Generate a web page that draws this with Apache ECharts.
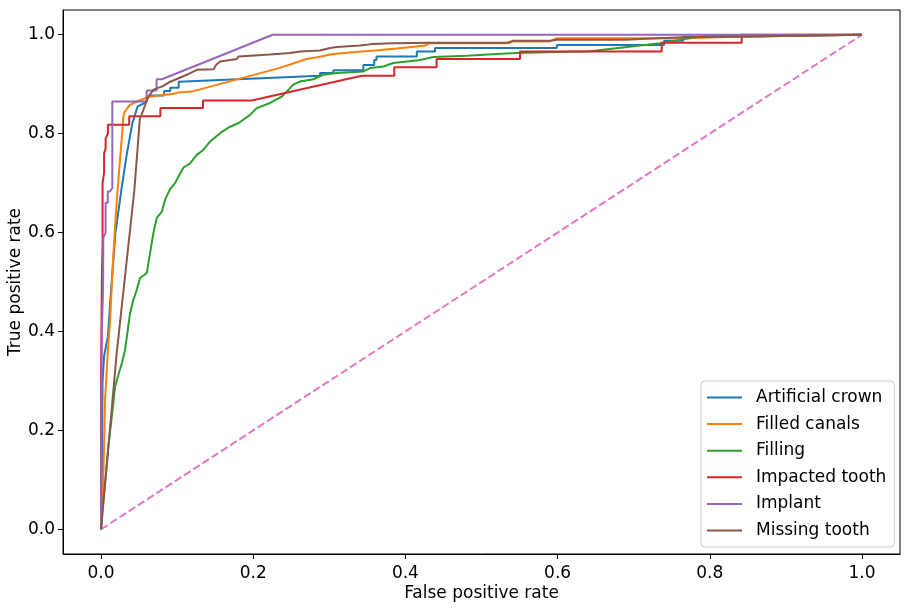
<!DOCTYPE html>
<html>
<head>
<meta charset="utf-8">
<script src="https://cdn.jsdelivr.net/npm/echarts@6/dist/echarts.min.js"></script>
<style>html,body{margin:0;padding:0;background:#fff;}#c{width:911px;height:608px;}</style>
</head>
<body>
<div id="c"></div>
<script>
const seriesNames = ['Artificial crown','Filled canals','Filling','Impacted tooth','Implant','Missing tooth'];
const tickValues = [0, 0.2, 0.4, 0.6, 0.8, 1.0];

const artificialCrown = [[0,0],[0.001,0.1],[0.002,0.3],[0.004,0.35],[0.009,0.39],[0.013,0.48],[0.019,0.60],[0.027,0.69],[0.034,0.76],[0.041,0.82],[0.045,0.84],[0.048,0.855],[0.055,0.86],[0.060,0.867],[0.063,0.877],[0.083,0.877],[0.083,0.886],[0.091,0.886],[0.091,0.893],[0.102,0.893],[0.102,0.905],[0.2878,0.917],[0.2878,0.9225],[0.3053,0.9225],[0.3053,0.928],[0.3447,0.928],[0.3447,0.939],[0.359,0.939],[0.359,0.949],[0.362,0.949],[0.362,0.956],[0.415,0.956],[0.415,0.966],[0.439,0.966],[0.439,0.973],[0.599,0.973],[0.599,0.979],[0.740,0.979],[0.740,0.988],[0.765,0.988],[0.765,0.996],[0.827,0.996],[0.827,1.0],[1,1]];

const filledCanals = [[0,0],[0.0017,0.05],[0.003,0.107],[0.0053,0.262],[0.009,0.362],[0.0118,0.42],[0.016,0.551],[0.020,0.65],[0.0245,0.74],[0.0272,0.79],[0.0293,0.835],[0.0315,0.845],[0.038,0.858],[0.047,0.865],[0.0556,0.870],[0.062,0.874],[0.097,0.881],[0.100,0.883],[0.119,0.885],[0.235,0.933],[0.270,0.951],[0.2855,0.955],[0.305,0.961],[0.334,0.965],[0.360,0.968],[0.3886,0.972],[0.4017,0.974],[0.426,0.978],[0.432,0.983],[0.533,0.983],[0.537,0.9865],[0.590,0.9865],[0.599,0.993],[0.771,0.993],[0.771,0.996],[0.83,0.996],[0.83,1.0],[1,1]];

const filling = [[0,0],[0.0022,0.045],[0.0053,0.0925],[0.0096,0.1666],[0.0141,0.227],[0.0184,0.288],[0.0227,0.312],[0.0272,0.335],[0.0315,0.362],[0.0381,0.4366],[0.0424,0.4636],[0.0469,0.4838],[0.0512,0.508],[0.060,0.5176],[0.0644,0.558],[0.0687,0.5986],[0.0732,0.6296],[0.0798,0.6417],[0.0841,0.666],[0.0907,0.688],[0.0972,0.6998],[0.1016,0.713],[0.1081,0.731],[0.117,0.740],[0.1258,0.757],[0.1344,0.767],[0.1432,0.784],[0.1564,0.801],[0.1695,0.814],[0.1804,0.821],[0.1958,0.838],[0.2046,0.8516],[0.222,0.862],[0.2375,0.875],[0.244,0.885],[0.2527,0.899],[0.2615,0.9055],[0.279,0.910],[0.292,0.919],[0.3097,0.9225],[0.3447,0.9257],[0.3535,0.9326],[0.371,0.9358],[0.384,0.9427],[0.4017,0.946],[0.419,0.949],[0.4367,0.955],[0.4806,0.9575],[0.520,0.961],[0.546,0.963],[0.599,0.965],[0.6426,0.9666],[0.7346,0.983],[0.787,0.9966],[0.830,0.998],[0.997,1.0],[1,1]];

const impactedTooth = [[0,0],[0,0.3],[0.001,0.5],[0.002,0.58],[0.002,0.7],[0.004,0.72],[0.004,0.76],[0.006,0.77],[0.006,0.79],[0.009,0.80],[0.009,0.818],[0.037,0.818],[0.037,0.835],[0.078,0.835],[0.078,0.852],[0.134,0.852],[0.134,0.867],[0.198,0.867],[0.3426,0.917],[0.3854,0.917],[0.3854,0.934],[0.441,0.934],[0.441,0.951],[0.5506,0.951],[0.5506,0.966],[0.7368,0.966],[0.7368,0.984],[0.842,0.984],[0.842,1.0],[1,1]];

const implant = [[0,0],[0.0005,0.25],[0.001,0.4],[0.0026,0.48],[0.003,0.59],[0.006,0.60],[0.006,0.66],[0.0088,0.66],[0.0088,0.683],[0.0118,0.683],[0.0148,0.69],[0.0148,0.865],[0.060,0.865],[0.060,0.887],[0.073,0.887],[0.073,0.910],[0.080,0.910],[0.2256,1.0],[1,1]];

const missingTooth = [[0,0],[0.0205,0.355],[0.0438,0.686],[0.051,0.83],[0.0534,0.839],[0.0566,0.852],[0.059,0.862],[0.061,0.872],[0.069,0.889],[0.074,0.892],[0.080,0.895],[0.091,0.905],[0.102,0.912],[0.1126,0.919],[0.1258,0.929],[0.148,0.930],[0.1511,0.939],[0.1564,0.946],[0.1784,0.951],[0.1805,0.956],[0.222,0.960],[0.2484,0.963],[0.2615,0.966],[0.2878,0.968],[0.301,0.973],[0.310,0.975],[0.3403,0.978],[0.3557,0.981],[0.384,0.983],[0.432,0.984],[0.5374,0.984],[0.5418,0.988],[0.590,0.988],[0.599,0.990],[0.6886,0.990],[0.6886,0.992],[0.717,0.992],[0.717,0.995],[0.765,0.995],[0.765,0.9966],[0.850,0.9966],[0.850,1.0],[1,1]];

const chanceLine = [[0,0],[1,1]];

const colors = ['#1f77b4','#ff7f0e','#2ca02c','#d62728','#9467bd','#8c564b','#e377c2'];
const dataSets = [artificialCrown, filledCanals, filling, impactedTooth, implant, missingTooth];

const font = 'DejaVu Sans';
const series = dataSets.map((d, i) => ({
  name: seriesNames[i], type: 'line', data: d, symbol: 'none', showSymbol: false,
  lineStyle: {color: colors[i], width: 2}, itemStyle: {color: colors[i]},
  animation: false, z: 3
}));
series.push({
  name: 'chance', type: 'line', data: chanceLine, symbol: 'none',
  lineStyle: {color: colors[6], width: 2, type: [7.7, 3.3]}, itemStyle: {color: colors[6]},
  animation: false, z: 2
});

const chart = echarts.init(document.getElementById('c'), null, {renderer: 'canvas'});
const axisCommon = {
  type: 'value', min: -0.05, max: 1.05,
  splitLine: {show: false},
  axisLine: {show: true, onZero: false, lineStyle: {color: '#000', width: 1}},
  axisTick: {show: true, length: 5, lineStyle: {color: '#000'}, customValues: tickValues},
  axisLabel: {color: '#000', fontFamily: font, fontSize: 17, customValues: tickValues,
    formatter: v => v.toFixed(1)},
  nameLocation: 'middle',
  nameMoveOverlap: false,
  nameTextStyle: {color: '#000', fontFamily: font, fontSize: 17}
};
chart.setOption({
  animation: false,
  backgroundColor: '#fff',
  grid: {left: 63, right: 11, top: 10, bottom: 54, show: true, borderColor: '#000', borderWidth: 1,
    containLabel: false, outerBoundsMode: 'none'},
  xAxis: Object.assign({}, axisCommon, {name: 'False positive rate', nameGap: 31,
    axisLabel: Object.assign({}, axisCommon.axisLabel, {margin: 11})}),
  yAxis: Object.assign({}, axisCommon, {name: 'True positive rate', nameGap: 39,
    axisLabel: Object.assign({}, axisCommon.axisLabel, {margin: 8})}),
  legend: {
    data: seriesNames, orient: 'vertical', left: 701, top: 381,
    padding: [8, 8, 8, 6], itemWidth: 35, itemHeight: 14, itemGap: 9.6,
    borderColor: '#cccccc', borderWidth: 1, borderRadius: 4, backgroundColor: 'rgba(255,255,255,0.8)',
    textStyle: {color: '#000', fontFamily: font, fontSize: 17, padding: [0, 0, 0, 9]},
    icon: 'path://M0,0 L35,0 L35,2 L0,2 Z'
  },
  series: series
});
</script>
</body>
</html>
